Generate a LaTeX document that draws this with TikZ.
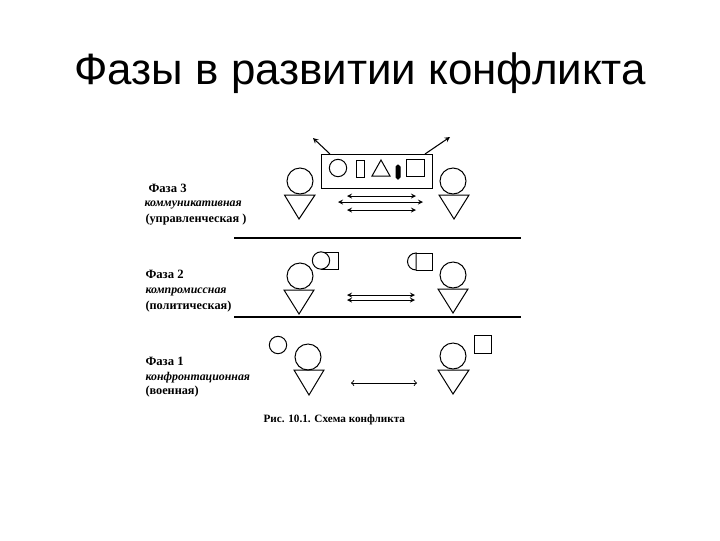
\documentclass[tikz,border=0pt]{standalone}
\usepackage{fontspec}
\setmainfont{Liberation Serif}
\newfontfamily\titlefont{Liberation Sans}
\begin{document}
\begin{tikzpicture}[x=0.75pt,y=-0.75pt,line width=0.75pt,
  disc/.style={draw,circle,inner sep=0pt,minimum size=19.5pt},
  smalldisc/.style={draw,circle,inner sep=0pt,minimum size=13pt},
  blk/.style={draw,inner sep=0pt},
  sq/.style={draw,inner sep=0pt,minimum size=13pt},
  headtext/.style={anchor=base west,inner sep=0pt,font=\fontsize{9.5pt}{10pt}\selectfont\bfseries},
  itext/.style={anchor=base west,inner sep=0pt,font=\fontsize{8.9pt}{10pt}\selectfont\bfseries\itshape},
  ptext/.style={anchor=base west,inner sep=0pt,font=\fontsize{9.2pt}{10pt}\selectfont\bfseries},
  dbl/.style={<->,>=stealth,line width=0.7pt},
  rule/.style={line width=0.95pt},
  tri/.style={draw,line join=miter}]
\useasboundingbox (0,0) rectangle (720,540);
\fill[white] (0,0) rectangle (720,540);
\node[anchor=base west,inner sep=0pt,font=\fontsize{32.9pt}{36pt}\selectfont\titlefont] (title) at (74,84) {Фазы в развитии конфликта};

% Phase 3
\node[blk,minimum width=83.25pt,minimum height=25.5pt] (board) at (376.5,171) {};
\coordinate (ul) at (313,138); \coordinate (ur) at (450,137);
\coordinate (bl) at (330,154); \coordinate (br) at (425,154);
\draw[->,>=stealth,line width=0.8pt] (bl) -- (ul);
\draw[->,>=stealth,line width=0.8pt] (br) -- (ur);
\node[disc] (c3l) at (300,181) {};
\node[disc] (c3r) at (453,181) {};
\draw[tri] (284.5,195) -- (315,195) -- (299,219) -- cycle;
\draw[tri] (439,195) -- (469,195) -- (454,219) -- cycle;
\node[smalldisc] (i1) at (338,168) {};
\node[blk,minimum width=6pt,minimum height=12.75pt] (i2) at (360,168.5) {};
\draw[tri] (372,176) -- (390,176) -- (381,160) -- cycle;
\node[draw,fill=black,rounded corners=1.4pt,inner sep=0pt,minimum width=3pt,minimum height=10.5pt] (i4) at (398,172) {};
\node[sq] (i5) at (415.5,168) {};
\coordinate (a1l) at (347,196); \coordinate (a1r) at (416,196);
\coordinate (a2l) at (338,202); \coordinate (a2r) at (423,202);
\coordinate (a3l) at (347,210); \coordinate (a3r) at (416,210);
\draw[dbl] (a1l) -- (a1r);
\draw[dbl] (a2l) -- (a2r);
\draw[dbl] (a3l) -- (a3r);
\node[headtext] (t31) at (148,192) {Фаза 3};
\node[itext] (t32) at (144,206) {коммуникативная};
\node[ptext] (t33) at (145,222) {(управленческая )};
\coordinate (r1l) at (234,238); \coordinate (r1r) at (521,238);
\draw[rule] (r1l) -- (r1r);

% Phase 2
\node[disc] (c2l) at (300,276) {};
\node[disc] (c2r) at (453,275) {};
\draw[tri] (284,290) -- (314,290) -- (299,314) -- cycle;
\draw[tri] (438,289) -- (468,289) -- (453,313) -- cycle;
\draw (321,252) -- (338,252) -- (338,269) -- (321,269);
\node[smalldisc,fill=white] (c2s) at (321,260.5) {};
\draw (416,253) -- (432,253) -- (432,270) -- (416,270);
\draw (416,253) arc[start angle=270,end angle=90,radius=8.5] -- cycle;
\coordinate (b1l) at (347,295); \coordinate (b1r) at (415,295);
\coordinate (b2l) at (347,300); \coordinate (b2r) at (415,300);
\draw[dbl] (b1l) -- (b1r);
\draw[dbl] (b2l) -- (b2r);
\node[headtext] (t21) at (145,278) {Фаза 2};
\node[itext] (t22) at (145,293) {компромиссная};
\node[ptext] (t23) at (145,309) {(политическая)};
\coordinate (r2l) at (234,317); \coordinate (r2r) at (521,317);
\draw[rule] (r2l) -- (r2r);

% Phase 1
\node[smalldisc] (c1s) at (278,345) {};
\node[disc] (c1l) at (308,357) {};
\node[disc] (c1r) at (453,356) {};
\draw[tri] (294,370) -- (324,370) -- (309,395) -- cycle;
\draw[tri] (438,370) -- (469,370) -- (453,394) -- cycle;
\node[sq] (s1) at (483,344.5) {};
\coordinate (d1l) at (351,383); \coordinate (d1r) at (417,383);
\draw[<->,>=to,line width=0.7pt] (d1l) -- (d1r);
\node[headtext] (t11) at (145,365) {Фаза 1};
\node[itext] (t12) at (145,380) {конфронтационная};
\node[ptext] (t13) at (145,394) {(военная)};
\node[anchor=base west,inner sep=0pt,font=\fontsize{8.4pt}{10pt}\selectfont\bfseries] (cap) at (263,422) {Рис. 10.1. Схема конфликта};
\end{tikzpicture}
\end{document}
